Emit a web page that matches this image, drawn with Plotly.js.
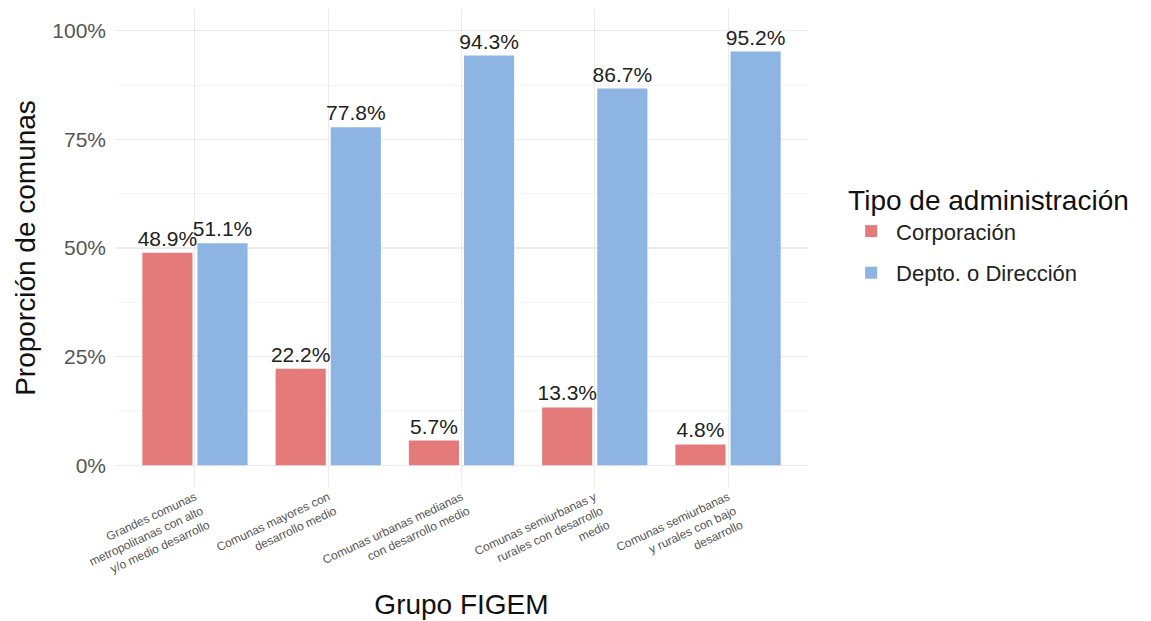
<!DOCTYPE html>
<html><head><meta charset="utf-8">
<script src="https://cdn.plot.ly/plotly-3.0.1.min.js"></script>
<style>html,body{margin:0;padding:0;background:#fff}#chart{width:1151px;height:621px}</style>
</head><body><div id="chart"></div>
<script>
const categories = [
  "Grandes comunas<br>metropolitanas con alto<br>y/o medio desarrollo",
  "Comunas mayores con<br>desarrollo medio",
  "Comunas urbanas medianas<br>con desarrollo medio",
  "Comunas semiurbanas y<br>rurales con desarrollo<br>medio",
  "Comunas semiurbanas<br>y rurales con bajo<br>desarrollo"
];
const corporacion = [0.489, 0.222, 0.057, 0.133, 0.048];
const depto = [0.511, 0.778, 0.943, 0.867, 0.952];
const yTickVals = [0, 0.25, 0.5, 0.75, 1];
const yTickText = ["0%", "25%", "50%", "75%", "100%"];

const F = "Liberation Sans, Arial, sans-serif";
const pct = v => (v*100).toFixed(1) + "%";

const traces = [
  {type:"bar", name:"Corporación", legendgroup:"a", x:categories, y:corporacion,
   text:corporacion.map(pct), textposition:"outside", constraintext:"none", cliponaxis:false,
   textfont:{family:F, size:21, color:"#222"},
   marker:{color:"#E57A7A"}, hoverinfo:"x+y"},
  {type:"bar", name:"Depto. o Dirección", legendgroup:"b", x:categories, y:depto,
   text:depto.map(pct), textposition:"outside", constraintext:"none", cliponaxis:false,
   textfont:{family:F, size:21, color:"#222"},
   marker:{color:"#8DB4E2"}, hoverinfo:"x+y"}
];

const layout = {
  width:1151, height:621,
  margin:{l:115, r:343, t:9, b:134},
  paper_bgcolor:"#fff", plot_bgcolor:"#fff",
  font:{family:F},
  barmode:"group", bargap:0.173, bargroupgap:0.09,
  xaxis:{
    type:"category", range:[-0.6, 4.6],
    tickangle:-25, tickfont:{family:F, size:12, color:"#555"},
    showgrid:true, gridcolor:"#ebebeb", gridwidth:1,
    zeroline:false, showline:false, ticks:"",
    title:{text:"Grupo FIGEM", font:{family:F, size:28, color:"#111"}, standoff:8}
  },
  yaxis:{
    range:[-0.05, 1.05], tickvals:yTickVals, ticktext:yTickText,
    tickfont:{family:F, size:21, color:"#555"},
    showgrid:true, gridcolor:"#ebebeb", gridwidth:1.2,
    minor:{dtick:0.125, tick0:0, showgrid:true, gridcolor:"#f3f3f3", gridwidth:0.8},
    zeroline:false, showline:false, ticks:"", ticklabelstandoff:8,
    title:{text:"Proporción de comunas", font:{family:F, size:28, color:"#111"}, standoff:8}
  },
  legend:{
    x:1.055, xanchor:"left", y:0.655, yanchor:"top",
    title:{text:"Tipo de administración", font:{family:F, size:28, color:"#111"}},
    font:{family:F, size:22, color:"#222"},
    traceorder:"grouped", tracegroupgap:10,
    itemwidth:40, bgcolor:"rgba(0,0,0,0)"
  },
  showlegend:true
};

Plotly.newPlot("chart", traces, layout, {displayModeBar:false, staticPlot:true});
</script>
</body></html>
